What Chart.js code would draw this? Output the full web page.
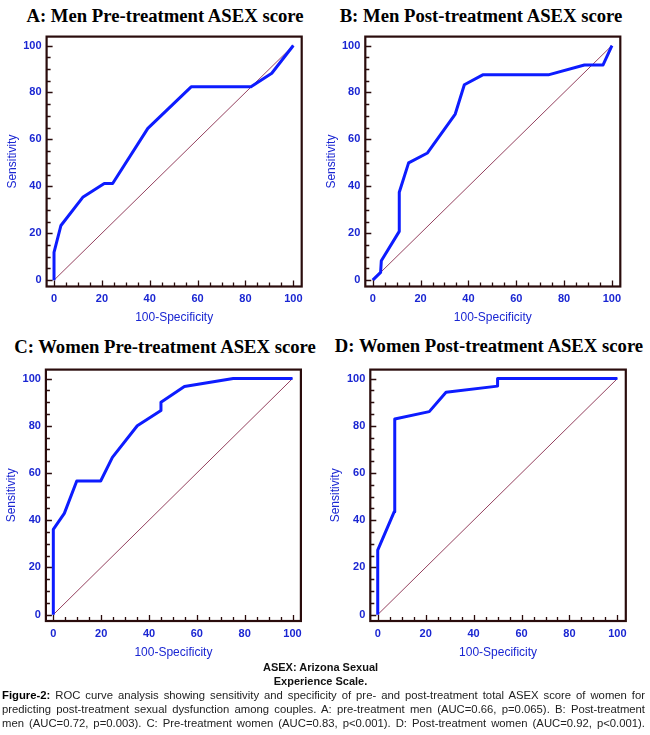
<!DOCTYPE html>
<html><head><meta charset="utf-8">
<script src="https://cdn.jsdelivr.net/npm/chart.js@4.4.1/dist/chart.umd.min.js"></script>
<style>
html,body{margin:0;padding:0;background:#fff;}
body{width:650px;height:735px;position:relative;overflow:hidden;font-family:"Liberation Sans",Arial,sans-serif;}
.ttl{position:absolute;width:340px;text-align:center;font-family:"Liberation Serif","Times New Roman",serif;font-weight:bold;font-size:18.7px;color:#000;line-height:20px;white-space:nowrap;}
.pane{position:absolute;}
.cap{position:absolute;font-size:11.3px;line-height:14px;color:#222;white-space:nowrap;}
.ctr{left:220px;width:201px;text-align:center;font-weight:bold;color:#111;font-size:11px;}
.j{left:2px;width:643px;text-align:justify;text-align-last:justify;}
</style></head><body>
<div class="ttl" style="left:-5px;top:6px;">A: Men Pre-treatment ASEX score</div>
<div class="ttl" style="left:311px;top:6px;">B: Men Post-treatment ASEX score</div>
<div class="ttl" style="left:-5px;top:337px;">C: Women Pre-treatment ASEX score</div>
<div class="ttl" style="left:319px;top:336px;">D: Women Post-treatment ASEX score</div>

<div class="pane" style="left:0;top:25px;width:325px;height:305px;"><canvas id="cA" width="325" height="305"></canvas></div>
<div class="pane" style="left:325px;top:25px;width:325px;height:305px;"><canvas id="cB" width="325" height="305"></canvas></div>
<div class="pane" style="left:0;top:358px;width:325px;height:307px;"><canvas id="cC" width="325" height="307"></canvas></div>
<div class="pane" style="left:325px;top:358px;width:325px;height:307px;"><canvas id="cD" width="325" height="307"></canvas></div>

<div class="cap ctr" style="top:660px;">ASEX: Arizona Sexual</div>
<div class="cap ctr" style="top:674px;">Experience Scale.</div>
<div class="cap j" style="top:688px;"><b style="color:#000">Figure-2:</b> ROC curve analysis showing sensitivity and specificity of pre- and post-treatment total ASEX score of women for</div>
<div class="cap j" style="top:702px;">predicting post-treatment sexual dysfunction among couples. A: pre-treatment men (AUC=0.66, p=0.065). B: Post-treatment</div>
<div class="cap j" style="top:716px;">men (AUC=0.72, p=0.003). C: Pre-treatment women (AUC=0.83, p&lt;0.001). D: Post-treatment women (AUC=0.92, p&lt;0.001).</div>

<script>
// ---- data (100-Specificity, Sensitivity) ----
const menPreX   = [0, 0, 2.9, 12, 21, 24.5, 39.2, 57.3, 82.3, 91, 100];
const menPreY   = [0, 11.8, 23.3, 35.3, 41.2, 41.2, 64.7, 82.4, 82.4, 88.2, 100];
const menPostX  = [0, 3.3, 3.6, 11.1, 11.1, 15, 22.9, 34.5, 38.3, 46, 73.4, 88.5, 96.3, 100];
const menPostY  = [0, 3.3, 8.3, 20.8, 37.5, 50, 54.2, 70.8, 83.3, 87.5, 87.5, 91.7, 91.7, 100];
const womPreX   = [0, 0, 4.6, 9.8, 19.8, 24.7, 35.1, 45, 45, 54.8, 75.2, 100];
const womPreY   = [0, 36.1, 42.9, 56.6, 56.6, 66.6, 80, 86.5, 90, 96.6, 100, 100];
const womPostX  = [0, 0, 6.9, 7.1, 21.5, 28.5, 50, 50, 100];
const womPostY  = [0, 27.3, 43.6, 82.9, 86, 94.2, 96.8, 100, 100];
const refX = [0, 100];
const refY = [0, 100];
const majorTicks = [0, 20, 40, 60, 80, 100];
const minorTicks = [0, 5, 10, 15, 20, 25, 30, 35, 40, 45, 50, 55, 60, 65, 70, 75, 80, 85, 90, 95, 100];
const xTitle = '100-Specificity';
const yTitle = 'Sensitivity';

const BLUE_TXT = '#1a26d2';
const BLUE_LINE = '#0d1cff';
const DIAG = '#94405e';
const FRAME = '#2a0c0c';

// shrink caption font if a justified line would overflow
document.querySelectorAll('.cap.j').forEach(el => {
  let fs = 11.3;
  el.style.textAlignLast = 'left';
  el.style.width = 'auto';
  while (el.getBoundingClientRect().width > 643 && fs > 9) { fs -= 0.1; el.style.fontSize = fs + 'px'; }
  el.style.width = '643px';
  el.style.textAlignLast = 'justify';
});

const framePlugin = {
  id: 'frame',
  afterDatasetsDraw(chart) {
    const {ctx, chartArea: a, scales: {x, y}} = chart;
    ctx.save();
    ctx.strokeStyle = FRAME;
    ctx.lineWidth = 1.3;
    ctx.beginPath();
    minorTicks.forEach(v => {
      const len = (v % 20 === 0) ? 6 : 4;
      const px = Math.round(x.getPixelForValue(v)) + 0.5;
      ctx.moveTo(px, a.bottom); ctx.lineTo(px, a.bottom - len);
      const py = Math.round(y.getPixelForValue(v)) + 0.5;
      ctx.moveTo(a.left, py); ctx.lineTo(a.left + len, py);
    });
    ctx.stroke();
    ctx.lineWidth = 2.2;
    ctx.strokeRect(a.left, a.top, a.right - a.left, a.bottom - a.top);
    ctx.restore();
  }
};

function pts(xs, ys) { return xs.map((v, i) => ({x: v, y: ys[i]})); }

function makeChart(id, xs, ys, p) {
  new Chart(document.getElementById(id), {
    type: 'scatter',
    data: {
      datasets: [
        {data: pts(xs, ys), showLine: true, borderColor: BLUE_LINE, borderWidth: 3, pointRadius: 0, tension: 0, order: 1, borderJoinStyle: 'round'},
        {data: pts(refX, refY), showLine: true, borderColor: DIAG, borderWidth: 1, pointRadius: 0, order: 2}
      ]
    },
    options: {
      responsive: false,
      animation: false,
      events: [],
      layout: {padding: {top: p.top, right: p.right, left: 0, bottom: 0}},
      plugins: {legend: {display: false}, tooltip: {enabled: false}},
      scales: {
        x: {
          type: 'linear', min: -3.1, max: 103.5,
          afterBuildTicks: s => { s.ticks = majorTicks.map(v => ({value: v})); },
          afterFit: s => { s.height = p.xh; },
          grid: {display: false, drawTicks: false},
          border: {display: false},
          ticks: {color: BLUE_TXT, font: {family: '"Liberation Sans", Arial, sans-serif', size: 11, weight: 'bold'}, padding: 6, maxRotation: 0, autoSkip: false},
          title: {display: true, text: xTitle, color: BLUE_TXT, font: {family: '"Liberation Sans", Arial, sans-serif', size: 12, lineHeight: 1}, padding: {top: 0, bottom: p.xtp}}
        },
        y: {
          type: 'linear', min: -2.7, max: 103.8,
          afterBuildTicks: s => { s.ticks = majorTicks.map(v => ({value: v})); },
          afterFit: s => { s.width = p.yw; },
          grid: {display: false, drawTicks: false},
          border: {display: false},
          ticks: {color: BLUE_TXT, font: {family: '"Liberation Sans", Arial, sans-serif', size: 11, weight: 'bold'}, padding: 5, autoSkip: false},
          title: {display: true, text: yTitle, color: BLUE_TXT, font: {family: '"Liberation Sans", Arial, sans-serif', size: 12, lineHeight: 1}, padding: {top: p.ytp, bottom: 0}}
        }
      }
    },
    plugins: [framePlugin]
  });
}

makeChart('cA', menPreX, menPreY,   {top: 8,   right: 23.3, yw: 46.6, xh: 43.5, ytp: 6.3, xtp: 6.3});
makeChart('cB', menPostX, menPostY, {top: 8,   right: 29.7, yw: 40.3, xh: 43.5, ytp: 0.7, xtp: 6.3});
makeChart('cC', womPreX, womPreY,   {top: 9.5, right: 24.1, yw: 45.9, xh: 44,   ytp: 5.5, xtp: 6.3});
makeChart('cD', womPostX, womPostY, {top: 9.5, right: 24.2, yw: 45.3, xh: 44,   ytp: 5.0, xtp: 6.3});
</script>
</body></html>
